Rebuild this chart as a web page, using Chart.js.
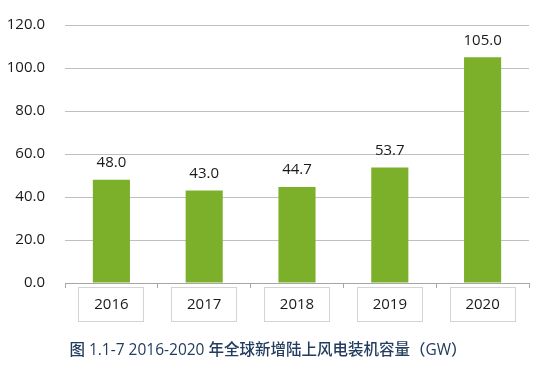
<!DOCTYPE html>
<html>
<head>
<meta charset="utf-8">
<script src="https://cdn.jsdelivr.net/npm/chart.js@4"></script>
<style>
  html, body { margin: 0; padding: 0; background: #fff; }
  #wrap { position: relative; width: 550px; height: 369px; }
  #caption {
    position: absolute; left: 0; width: 536px; top: 337px;
    text-align: center; font: 500 15.5px "Open Sans", "Noto Sans CJK SC", sans-serif;
    color: #233d5e; white-space: nowrap;
  }
</style>
</head>
<body>
<div id="wrap">
  <canvas id="chart" width="550" height="369"></canvas>
  <div id="caption">图 1.1-7 2016-2020 年全球新增陆上风电装机容量（GW）</div>
</div>
<script>
// Data
const years = ["2016", "2017", "2018", "2019", "2020"];
const capacity = [48.0, 43.0, 44.7, 53.7, 105.0];
const yTicks = [0, 20, 40, 60, 80, 100, 120];

const font = "'Open Sans', 'Noto Sans', sans-serif";

// value labels over the bars
const valueLabels = {
  id: "valueLabels",
  afterDatasetsDraw(chart) {
    const ctx = chart.ctx;
    const meta = chart.getDatasetMeta(0);
    ctx.save();
    ctx.font = "15px " + font;
    ctx.fillStyle = "#1a1a1a";
    ctx.textAlign = "center";
    ctx.textBaseline = "middle";
    meta.data.forEach((bar, i) => {
      ctx.fillText(capacity[i].toFixed(1), bar.x, bar.y - 17);
    });
    ctx.restore();
  }
};

// boxes round the category labels
const labelBoxes = {
  id: "labelBoxes",
  afterDraw(chart) {
    const ctx = chart.ctx;
    const x = chart.scales.x;
    ctx.save();
    ctx.strokeStyle = "#d4d4d4";
    ctx.lineWidth = 1;
    years.forEach((y, i) => {
      const cx = Math.round(x.getPixelForValue(i));
      ctx.strokeRect(cx - 32.5, 287.5, 65, 34);
    });
    ctx.restore();
  }
};

new Chart(document.getElementById("chart"), {
  type: "bar",
  data: {
    labels: years,
    datasets: [{
      data: capacity,
      backgroundColor: "#7cb02b",
      categoryPercentage: 1,
      barPercentage: 0.4
    }]
  },
  options: {
    responsive: false,
    animation: false,
    layout: { autoPadding: false, padding: { left: 0, right: 21, top: 25, bottom: 40 } },
    plugins: { legend: { display: false }, tooltip: { enabled: false } },
    scales: {
      x: {
        grid: { drawOnChartArea: false, drawTicks: true, tickLength: 5, color: "#a6a6a6" },
        border: { color: "#a6a6a6" },
        ticks: { font: { size: 15, family: font }, color: "#1a1a1a", padding: 8 },
        afterFit: s => { s.height = 46; }
      },
      y: {
        min: 0, max: 120,
        afterBuildTicks: s => { s.ticks = yTicks.map(v => ({ value: v })); },
        grid: { color: "#bfbfbf", drawTicks: false },
        border: { display: false },
        ticks: {
          font: { size: 15, family: font }, color: "#1a1a1a", padding: 20,
          callback: v => v.toFixed(1)
        },
        afterFit: s => { s.width = 65; s.paddingTop = 0; s.paddingBottom = 0; }
      }
    }
  },
  plugins: [valueLabels, labelBoxes]
});
</script>
</body>
</html>
